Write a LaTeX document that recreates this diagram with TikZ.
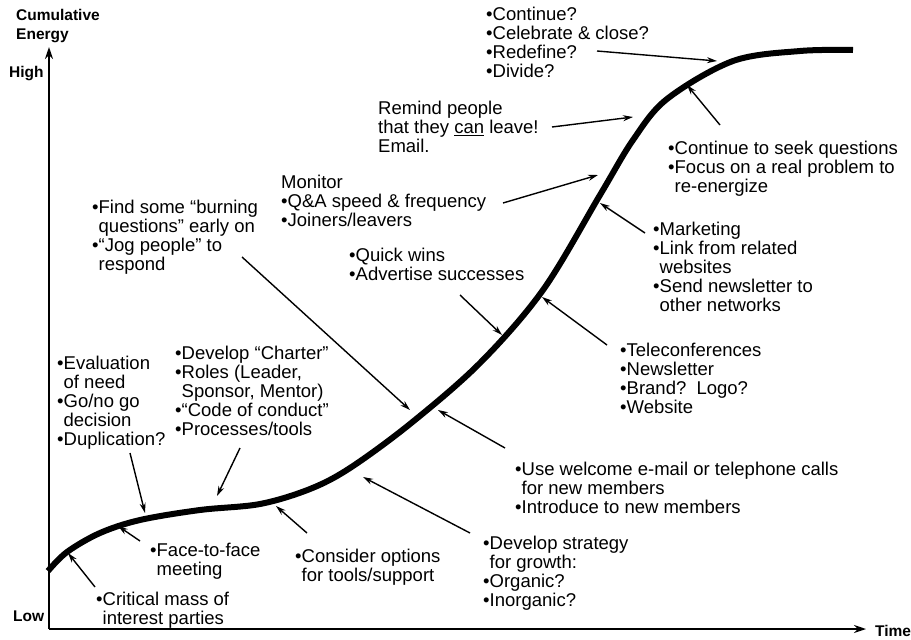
\documentclass[tikz,border=0pt]{standalone}
\usepackage{fontspec}
\setmainfont{Liberation Sans}
\usepackage{tikz}
\usetikzlibrary{arrows.meta}

\tikzset{
  note/.style={anchor=base west,inner sep=0pt,align=left,font=\fontsize{18.5}{19}\selectfont},
  axlabel/.style={anchor=base west,inner sep=0pt,align=left,font=\fontsize{15.5}{18.6}\selectfont\bfseries},
  pointer/.style={line width=1.4pt,-{Stealth[length=10pt,width=6pt]}},
  axis/.style={line width=1.8pt,-{Stealth[length=12pt,width=8pt]}},
  energy/.style={line width=6pt},
}
\newcommand{\itm}{\textbullet}
\newcommand{\ind}{\phantom{\textbullet}}

\begin{document}
\begin{tikzpicture}[x=1pt,y=-1pt]
        \useasboundingbox (0,0) rectangle (911,640);

        % axes
        \coordinate (o) at (49,629);
        \coordinate (ytop) at (49,47);
        \coordinate (xend) at (866,629);
        \draw[axis] (o) -- (ytop);
        \draw[axis] (o) -- (xend);

        % a multi-line node sits on the baseline of its last line
        \node[axlabel] (ylab) at (16,39.3) {Cumulative\\Energy};
        \node[axlabel] (high) at (9,77.7) {High};
        \node[axlabel] (low) at (13,621) {Low};
        \node[axlabel] (time) at (875,636) {Time};

        % the energy curve
        \draw[energy] plot[smooth,tension=0.55] coordinates {
          (48,571) (67,552) (100,533) (140,520) (200,510) (260,504)
          (310,489) (350,468) (410,424) (480,363) (543,290) (600,195)
          (633,140) (667,99) (733,61) (800,51) (853,50)};

        % texts
        \node[note] (crit) at (96,624.3) {\itm Critical mass of\\\ind interest parties};
        \node[note] (face) at (150,575) {\itm Face-to-face\\\ind meeting};
        \node[note] (eval) at (57,445) {\itm Evaluation\\\ind of need\\\itm Go/no go\\\ind decision\\\itm Duplication?};
        \node[note] (charter) at (175,435) {\itm Develop ``Charter''\\\itm Roles (Leader,\\\ind Sponsor, Mentor)\\\itm ``Code of conduct''\\\itm Processes/tools};
        \node[note] (cons) at (295,581.7) {\itm Consider options\\\ind for tools/support};
        \node[note] (strat) at (483,606) {\itm Develop strategy\\\ind for growth:\\\itm Organic?\\\itm Inorganic?};
        \node[note] (welc) at (515,513.3) {\itm Use welcome e-mail or telephone calls\\\ind for new members\\\itm Introduce to new members};
        \node[note] (burn) at (92,270) {\itm Find some ``burning\\\ind questions'' early on\\\itm ``Jog people'' to\\\ind respond};
        \node[note] (mon) at (281,226.7) {Monitor\\\itm Q\&A speed \& frequency\\\itm Joiners/leavers};
        \node[note] (quick) at (349,280.7) {\itm Quick wins\\\itm Advertise successes};
        \node[note] (tele) at (620,413.3) {\itm Teleconferences\\\itm Newsletter\\\itm Brand?\ \ Logo?\\\itm Website};
        \node[note] (mark) at (653,311) {\itm Marketing\\\itm Link from related\\\ind websites\\\itm Send newsletter to\\\ind other networks};
        \node[note] (remind) at (378,152.7) {Remind people\\that they \underline{can} leave!\\Email.};
        \node[note] (seek) at (668,192.3) {\itm Continue to seek questions\\\itm Focus on a real problem to\\\ind re-energize};
        \node[note] (fate) at (486,77.7) {\itm Continue?\\\itm Celebrate \& close?\\\itm Redefine?\\\itm Divide?};

        % pointers: tail near the text, head at the curve
        \coordinate (s1) at (95,587);   \coordinate (e1) at (68,553);
        \coordinate (s2) at (140,541);  \coordinate (e2) at (118,526);
        \coordinate (s3) at (130,453);  \coordinate (e3) at (145,513);
        \coordinate (s4) at (240,448);  \coordinate (e4) at (217,496);
        \coordinate (s5) at (307,533);  \coordinate (e5) at (276,506);
        \coordinate (s6) at (470,533);  \coordinate (e6) at (363,477);
        \coordinate (s7) at (505,448);  \coordinate (e7) at (438,410);
        \coordinate (s8) at (242,257);  \coordinate (e8) at (410,410);
        \coordinate (s9) at (460,295);  \coordinate (e9) at (502,335);
        \coordinate (s10) at (607,345); \coordinate (e10) at (542,297);
        \coordinate (s11) at (645,233); \coordinate (e11) at (600,203);
        \coordinate (s12) at (503,203); \coordinate (e12) at (598,175);
        \coordinate (s13) at (552,127); \coordinate (e13) at (633,117);
        \coordinate (s14) at (597,51);  \coordinate (e14) at (717,61);
        \coordinate (s15) at (720,125); \coordinate (e15) at (687,85);

        \draw[pointer] (s1) -- (e1);
        \draw[pointer] (s2) -- (e2);
        \draw[pointer] (s3) -- (e3);
        \draw[pointer] (s4) -- (e4);
        \draw[pointer] (s5) -- (e5);
        \draw[pointer] (s6) -- (e6);
        \draw[pointer] (s7) -- (e7);
        \draw[pointer] (s8) -- (e8);
        \draw[pointer] (s9) -- (e9);
        \draw[pointer] (s10) -- (e10);
        \draw[pointer] (s11) -- (e11);
        \draw[pointer] (s12) -- (e12);
        \draw[pointer] (s13) -- (e13);
        \draw[pointer] (s14) -- (e14);
        \draw[pointer] (s15) -- (e15);
\end{tikzpicture}
\end{document}
